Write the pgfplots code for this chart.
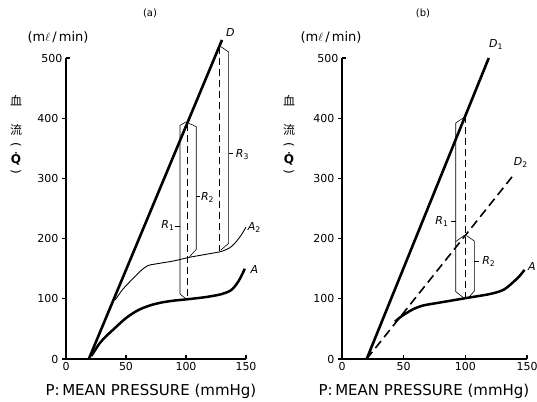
\documentclass[border=0pt]{standalone}
\usepackage{fontspec}
\setmainfont{DejaVu Sans}
\newfontfamily\cjk{Noto Sans CJK SC}
\usepackage{pgfplots}
\pgfplotsset{compat=1.18}

% one panel of the figure, 1pt = 1px of the reference
\pgfplotsset{
  panel/.style={
    scale only axis, height=301pt,
    xmin=0, xmax=150, ymin=0, ymax=500,
    clip=false,
    axis x line*=bottom, axis y line*=left,
    axis line style={line width=1.6pt, -},
    xtick={0,50,100,150}, ytick={0,100,200,300,400},
    extra y ticks={500},
    extra y tick style={ytick align=inside},
    xtick align=inside,
    ytick align=outside,
    major tick length=4pt,
    tick style={line width=1.2pt, black},
    ticklabel style={font=\fontsize{11}{11}\selectfont},
    /pgf/number format/assume math mode=true,
  },
  thick curve/.style={black, line width=2.5pt, no marks, smooth},
  thin curve/.style={black, line width=0.9pt, no marks, smooth},
  brace/.style={black, line width=0.6pt, no marks, sharp plot},
  vdash/.style={black, line width=1.4pt, no marks, dash pattern=on 7pt off 4pt},
}
\tikzset{lab/.style={font=\fontsize{11}{11}\selectfont\itshape}}

\begin{document}
\begin{tikzpicture}
\useasboundingbox (0,0) rectangle (537pt,401pt);

% ---------------- (a) ----------------
\begin{axis}[panel, width=180pt, at={(66pt,42pt)}, anchor=south west]
% D
\addplot[black, line width=2.6pt, no marks] coordinates {(19,0) (130,530)};
% A
\addplot[thick curve] coordinates {
  (21,5) (24,14) (28,26) (33,37) (40,50) (50,68) (60,81) (70,89) (80,94)
  (90,97) (100,99) (117,103) (130,108) (138,115) (144,130) (149,150)};
% A2
\addplot[thin curve] coordinates {
  (41,98) (47,115) (55,132) (62,146) (68,155) (75,158) (90,163) (103,169)
  (117,174) (130,179) (138,187) (145,203) (150,219)};
% dashed verticals
\addplot[vdash] coordinates {(101,391) (101,100)};
\addplot[vdash] coordinates {(128,519) (128,180)};
% R1, R2, R3 brackets
\addplot[brace] coordinates {(100,394) (95,388) (95,108) (100,100)};
\addplot[brace] coordinates {(91,220) (95,220)};
\addplot[brace] coordinates {(102,392) (108.5,386) (108.5,182) (103,170)};
\addplot[brace] coordinates {(108.5,270) (112,270)};
\addplot[brace] coordinates {(129,519) (135.5,510) (135.5,192) (129,181)};
\addplot[brace] coordinates {(135.5,342) (139,342)};
\node[lab] at (axis cs:137,543) {D};
\node[lab] at (axis cs:157,149) {A};
\node[lab] at (axis cs:157,218) {A\textsubscript{\upshape 2}};
\node[lab] at (axis cs:85,222) {R\textsubscript{\upshape 1}};
\node[lab] at (axis cs:118,268) {R\textsubscript{\upshape 2}};
\node[lab] at (axis cs:147,340) {R\textsubscript{\upshape 3}};
\end{axis}

% ---------------- (b) ----------------
\begin{axis}[panel, width=185pt, at={(342pt,42pt)}, anchor=south west]
% D1
\addplot[black, line width=2.6pt, no marks] coordinates {(20,0) (119,500)};
% D2
\addplot[black, line width=1.6pt, no marks, dash pattern=on 9pt off 5pt]
  coordinates {(20,0) (140,308)};
% A
\addplot[thick curve] coordinates {
  (43,62) (47,69) (52,76) (58,83) (66,89) (80,94) (100,101) (120,108)
  (131,115) (139,128) (144,138) (148,148)};
\addplot[vdash] coordinates {(100,404) (100,101)};
% R1, R2 brackets
\addplot[brace] coordinates {(98,400) (92.2,392) (92.2,112) (98.4,102)};
\addplot[brace] coordinates {(88.5,228) (92.2,228)};
\addplot[brace] coordinates {(101,205) (107.3,196) (107.3,113) (102.6,102)};
\addplot[brace] coordinates {(99,205) (92.2,195)};
\addplot[brace] coordinates {(107.3,162) (111,162)};
\node[lab] at (axis cs:125,522) {D\textsubscript{\upshape 1}};
\node[lab] at (axis cs:145,326) {D\textsubscript{\upshape 2}};
\node[lab] at (axis cs:154,153) {A};
\node[lab] at (axis cs:81,228) {R\textsubscript{\upshape 1}};
\node[lab] at (axis cs:119,162) {R\textsubscript{\upshape 2}};
\end{axis}

% ---------------- titles and labels ----------------
\foreach \xo/\tag in {0/a, 273/b} {
  \node[font=\fontsize{10}{10}\selectfont] at (\xo pt+150pt,388pt) {(\tag)};
  \node[font=\fontsize{13}{13}\selectfont] at (\xo pt+58pt,364pt) {(m\ensuremath{\ell}\,/\,min)};
  \node[font=\fontsize{15}{15}\selectfont] at (\xo pt+151pt,10pt) {P:\,MEAN PRESSURE (mmHg)};
  \node[font=\cjk\fontsize{12}{12}\selectfont] at (\xo pt+16pt,300pt) {血};
  \node[font=\cjk\fontsize{12}{12}\selectfont] at (\xo pt+16pt,271pt) {流};
  \node[font=\fontsize{12}{12}\selectfont, rotate=-90] at (\xo pt+16pt,256pt) {(};
  \node[font=\fontsize{12}{12}\selectfont\bfseries] at (\xo pt+16pt,242pt) {\.{Q}};
  \node[font=\fontsize{12}{12}\selectfont, rotate=-90] at (\xo pt+16pt,229pt) {)};
}
\end{tikzpicture}
\end{document}
